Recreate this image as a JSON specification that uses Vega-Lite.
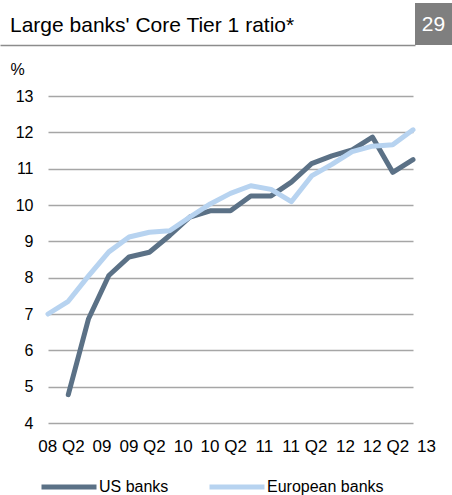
{
  "$schema": "https://vega.github.io/schema/vega-lite/v6.json",
  "padding": {"left": 0, "top": 3, "right": 0, "bottom": 0},
  "background": "white",
  "config": {
    "font": "Liberation Sans",
    "view": {"stroke": null},
    "axis": {"labelFont": "Liberation Sans", "titleFont": "Liberation Sans", "labelColor": "#000", "titleColor": "#000"},
    "legend": {"labelFont": "Liberation Sans"}
  },
  "datasets": {
    "header": [{"title": "Large banks' Core Tier 1 ratio*"}],
    "badge": [{"number": "29"}],
    "ratios": [
      {"quarter": "2008 Q3", "series": "US banks", "value": 4.78},
      {"quarter": "2008 Q4", "series": "US banks", "value": 6.87},
      {"quarter": "2009 Q1", "series": "US banks", "value": 8.06},
      {"quarter": "2009 Q2", "series": "US banks", "value": 8.57},
      {"quarter": "2009 Q3", "series": "US banks", "value": 8.70},
      {"quarter": "2009 Q4", "series": "US banks", "value": 9.16},
      {"quarter": "2010 Q1", "series": "US banks", "value": 9.67},
      {"quarter": "2010 Q2", "series": "US banks", "value": 9.84},
      {"quarter": "2010 Q3", "series": "US banks", "value": 9.84},
      {"quarter": "2010 Q4", "series": "US banks", "value": 10.25},
      {"quarter": "2011 Q1", "series": "US banks", "value": 10.25},
      {"quarter": "2011 Q2", "series": "US banks", "value": 10.63},
      {"quarter": "2011 Q3", "series": "US banks", "value": 11.14},
      {"quarter": "2011 Q4", "series": "US banks", "value": 11.35},
      {"quarter": "2012 Q1", "series": "US banks", "value": 11.52},
      {"quarter": "2012 Q2", "series": "US banks", "value": 11.87},
      {"quarter": "2012 Q3", "series": "US banks", "value": 10.9},
      {"quarter": "2012 Q4", "series": "US banks", "value": 11.25},
      {"quarter": "2008 Q2", "series": "European banks", "value": 7.0},
      {"quarter": "2008 Q3", "series": "European banks", "value": 7.35},
      {"quarter": "2008 Q4", "series": "European banks", "value": 8.05},
      {"quarter": "2009 Q1", "series": "European banks", "value": 8.71},
      {"quarter": "2009 Q2", "series": "European banks", "value": 9.12},
      {"quarter": "2009 Q3", "series": "European banks", "value": 9.25},
      {"quarter": "2009 Q4", "series": "European banks", "value": 9.29},
      {"quarter": "2010 Q1", "series": "European banks", "value": 9.67},
      {"quarter": "2010 Q2", "series": "European banks", "value": 10.03},
      {"quarter": "2010 Q3", "series": "European banks", "value": 10.32},
      {"quarter": "2010 Q4", "series": "European banks", "value": 10.53},
      {"quarter": "2011 Q1", "series": "European banks", "value": 10.43},
      {"quarter": "2011 Q2", "series": "European banks", "value": 10.09},
      {"quarter": "2011 Q3", "series": "European banks", "value": 10.8},
      {"quarter": "2011 Q4", "series": "European banks", "value": 11.12},
      {"quarter": "2012 Q1", "series": "European banks", "value": 11.47},
      {"quarter": "2012 Q2", "series": "European banks", "value": 11.62},
      {"quarter": "2012 Q3", "series": "European banks", "value": 11.66},
      {"quarter": "2012 Q4", "series": "European banks", "value": 12.07}
    ]
  },
  "spacing": 16,
  "vconcat": [
    {
      "spacing": 0,
      "hconcat": [
        {
          "width": 367,
          "height": 42,
          "data": {"name": "header"},
          "mark": {"type": "text", "align": "left", "baseline": "middle", "dx": -38, "dy": 2, "fontSize": 21, "color": "#000"},
          "encoding": {
            "x": {
              "field": "title",
              "type": "nominal",
              "scale": {"type": "point", "padding": 0, "align": 0, "range": [0, 415]},
              "axis": {"orient": "bottom", "position": -48, "domain": true, "domainColor": "#8c8c8c", "domainWidth": 1.5, "labels": false, "ticks": false, "grid": false, "title": null}
            },
            "text": {"field": "title"}
          }
        },
        {
          "width": 37,
          "height": 42,
          "view": {"fill": "#7f7f7f", "stroke": null},
          "data": {"name": "badge"},
          "mark": {"type": "text", "align": "center", "baseline": "middle", "dy": 1, "fontSize": 21, "color": "white"},
          "encoding": {"text": {"field": "number"}}
        }
      ]
    },
    {
      "width": 365,
      "height": 327,
      "data": {"name": "ratios"},
      "mark": {"type": "line", "strokeWidth": 5, "strokeCap": "round", "strokeJoin": "round"},
      "encoding": {
        "x": {
          "field": "quarter",
          "type": "ordinal",
          "scale": {"type": "point", "padding": 0, "domain": ["2008 Q2","2008 Q3","2008 Q4","2009 Q1","2009 Q2","2009 Q3","2009 Q4","2010 Q1","2010 Q2","2010 Q3","2010 Q4","2011 Q1","2011 Q2","2011 Q3","2011 Q4","2012 Q1","2012 Q2","2012 Q3","2012 Q4"]},
          "axis": {
            "values": ["2008 Q2","2008 Q4","2009 Q2","2009 Q4","2010 Q2","2010 Q4","2011 Q2","2011 Q4","2012 Q2","2012 Q4"],
            "labelExpr": "substring(datum.value,5)=='Q2' ? substring(datum.value,2,4)+' Q2' : substring(toString(toNumber(substring(datum.value,0,4))+1),2)",
            "title": null, "domain": false, "ticks": false, "grid": false,
            "labelAngle": 0, "labelFontSize": 17, "labelPadding": 15, "labelOffset": 13, "labelOverlap": false
          }
        },
        "y": {
          "field": "value",
          "type": "quantitative",
          "scale": {"domain": [4, 13], "nice": false, "zero": false},
          "axis": {
            "values": [4,5,6,7,8,9,10,11,12,13],
            "title": "%", "titleAngle": 0, "titleX": -38, "titleY": -22, "titleAlign": "left", "titleBaseline": "alphabetic",
            "titleFontSize": 16, "titleFontWeight": "normal",
            "domain": false, "ticks": false,
            "grid": true, "gridColor": "#a6a6a6", "gridWidth": 1.3,
            "labelFontSize": 16, "labelPadding": 15
          }
        },
        "color": {
          "field": "series",
          "type": "nominal",
          "scale": {"domain": ["US banks", "European banks"], "range": ["#5b7186", "#b7d3f0"]},
          "legend": {
            "title": null, "orient": "none", "legendX": -9, "legendY": 454, "direction": "horizontal",
            "symbolType": "stroke", "symbolSize": 3025, "symbolStrokeWidth": 5,
            "labelFontSize": 16, "labelOffset": 0, "columnPadding": 30, "labelColor": "#000"
          }
        }
      }
    }
  ]
}
